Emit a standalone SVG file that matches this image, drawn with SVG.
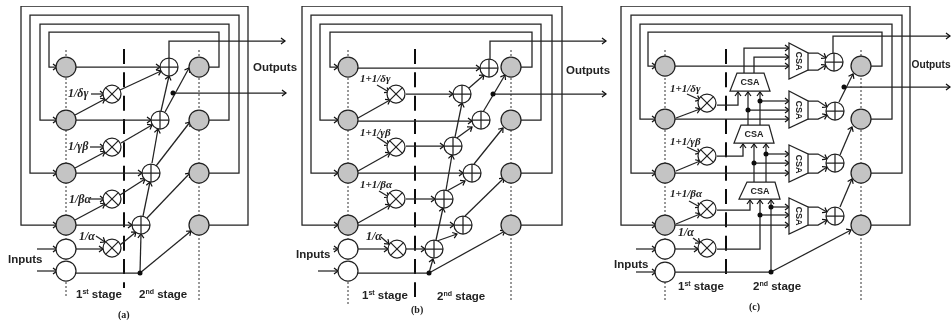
<svg xmlns="http://www.w3.org/2000/svg" width="951" height="320" viewBox="0 0 951 320">
<style>
.w{fill:none;stroke:#222;stroke-width:1.25}
.a{marker-end:url(#ar)}
.dot{fill:none;stroke:#333;stroke-width:1;stroke-dasharray:2 2}
.dash{fill:none;stroke:#111;stroke-width:2;stroke-dasharray:15 8.33}
.g{fill:#c4c4c4;stroke:#222;stroke-width:1.25}
.e{fill:#fff;stroke:#222;stroke-width:1.25}
.d{fill:#111}
.t{font-family:"Liberation Sans",Arial,sans-serif;font-weight:bold;font-size:11.5px;fill:#222}
.p{font-size:7px}
.l{font-family:"Liberation Serif","Times New Roman",serif;font-weight:bold;font-style:italic;font-size:11px;fill:#222}
.m{font-size:12px}
.c{font-family:"Liberation Serif","Times New Roman",serif;font-weight:bold;font-size:10px;fill:#222}
.s{font-family:"Liberation Sans",Arial,sans-serif;font-weight:bold;font-size:9px;fill:#222;text-anchor:middle}
</style>
<defs>
<filter id="soft" x="0" y="0" width="100%" height="100%"><feGaussianBlur stdDeviation="0.35"/></filter>
<marker id="ar" markerUnits="userSpaceOnUse" viewBox="-5 -4 6 8" refX="0" refY="0" markerWidth="6" markerHeight="8" orient="auto"><path d="M-4-3 0 0-4 3" fill="none" stroke="#111" stroke-width="1.2"/></marker>
<g id="add"><circle r="9" class="e"/><path d="M-9 0H9M0-9V9" class="w"/></g>
<g id="mul"><circle r="9" class="e"/><path d="M-6.4-6.4 6.4 6.4M-6.4 6.4 6.4-6.4" class="w"/></g>
</defs>
<rect width="951" height="320" fill="#fff"/>
<g filter="url(#soft)">
<g id="connectors">
<!-- panel a -->
<path class="dot" d="M66 50V298M199 50V301"/>
<path class="dash" d="M124 49V288"/>
<g class="w">
<path class="a" d="M209 67H219V32H49V67H57"/>
<path class="a" d="M209 120H229V24H40V120H57"/>
<path class="a" d="M209 173H239V15H30V173H57"/>
<path class="a" d="M209 225H248V6H21V225H57"/>
<path class="a" d="M76 67H160"/><path class="a" d="M76 120H151"/><path class="a" d="M76 173H142"/><path class="a" d="M76 225H132"/>
<path class="a" d="M37 249H57"/><path class="a" d="M37 271H57"/><path class="a" d="M76 249H103"/><path d="M76 273H140"/>
<path class="a" d="M75 115 105 99"/><path class="a" d="M75 168 105 152"/><path class="a" d="M75 220 105 204"/>
<path class="a" d="M120 90 161 71"/><path class="a" d="M121 143 152 125"/><path class="a" d="M120 195 145 179"/><path class="a" d="M120 245 136 232"/>
<path class="a" d="M91 94H104"/><path class="a" d="M90 147H104"/><path class="a" d="M90 199H104"/><path class="a" d="M96 236 105 242"/>
<path class="a" d="M165 112 189 68"/><path class="a" d="M156 166 190 122"/><path class="a" d="M147 218 190 173"/><path class="a" d="M140 273 191 231"/>
<path class="a" d="M140 273 141 234"/><path class="a" d="M143 216 150 182"/><path class="a" d="M152 163 158 129"/><path class="a" d="M161 111 169 76"/>
<path class="a" d="M169 58V41H285"/><path class="a" d="M173 93H286"/>
</g>
<!-- panel b -->
<path class="dot" d="M348 50V304M511 50V300"/>
<path class="dash" d="M415 49V297"/>
<g class="w">
<path class="a" d="M521 67H532V32H330V67H338"/>
<path class="a" d="M521 120H541V24H320V120H338"/>
<path class="a" d="M521 173H552V15H311V173H338"/>
<path class="a" d="M521 225H562V6H302V225H338"/>
<path class="a" d="M358 68H480"/><path class="a" d="M358 121H472"/><path class="a" d="M358 173H463"/><path class="a" d="M358 225H454"/>
<path class="a" d="M333 249H338"/><path class="a" d="M318 271H338"/><path class="a" d="M358 249H388"/><path d="M358 273H429"/>
<path class="a" d="M358 118 390 100"/><path class="a" d="M358 171 390 153"/><path class="a" d="M358 223 390 205"/>
<path class="a" d="M406 94H453"/><path class="a" d="M406 146H444"/><path class="a" d="M406 199H435"/><path class="a" d="M406 249H425"/>
<path class="a" d="M377 85 389 92"/><path class="a" d="M377 137 389 145"/><path class="a" d="M379 191 389 197"/><path class="a" d="M381 237 389 244"/>
<path class="a" d="M469 88 484 75"/><path class="a" d="M454 140 472 127"/><path class="a" d="M445 192 465 181"/><path class="a" d="M437 241 457 234"/>
<path class="a" d="M483 112 505 75"/><path class="a" d="M474 164 503 128"/><path class="a" d="M465 216 504 178"/><path class="a" d="M429 273 505 231"/>
<path class="a" d="M429 273 433 259"/><path class="a" d="M436 240 443 208"/><path class="a" d="M446 190 452 155"/><path class="a" d="M455 137 462 103"/>
<path class="a" d="M490 59V41H606"/><path class="a" d="M493 94H606"/>
</g>
<!-- panel c -->
<path class="dot" d="M665 50V300M861 50V300"/>
<path class="dash" d="M726 49V274"/>
<g class="w">
<path class="a" d="M871 66H882V32H648V66H656"/>
<path class="a" d="M871 119H892V24H640V119H656"/>
<path class="a" d="M871 173H902V15H631V173H656"/>
<path class="a" d="M871 225H910V6H621V225H656"/>
<path class="a" d="M675 66H789"/><path class="a" d="M675 119H789"/><path class="a" d="M675 173H789"/><path class="a" d="M675 225H789"/>
<path class="a" d="M636 249H656"/><path class="a" d="M636 272H656"/><path class="a" d="M675 249H698"/><path d="M675 272H771"/>
<path class="a" d="M676 118 700 109"/><path class="a" d="M676 171 700 161"/><path class="a" d="M676 224 700 214"/>
<path class="a" d="M687 94 700 100"/><path class="a" d="M687 147 700 153"/><path class="a" d="M689 201 700 207"/><path class="a" d="M693 238 700 243"/>
<path class="a" d="M717 105H738V92"/><path class="a" d="M717 156H743V144"/><path class="a" d="M717 210H750V200"/><path class="a" d="M717 249H760V200"/>
<path class="a" d="M744 74V48H789"/><path class="a" d="M754 74V57H789"/>
<path class="a" d="M748 125V92"/><path class="a" d="M760 125V92"/><path class="a" d="M760 101H789"/><path class="a" d="M748 110H789"/>
<path class="a" d="M754 183V144"/><path class="a" d="M766 183V144"/>
<path class="a" d="M766 154H789"/><path class="a" d="M754 163H789"/><path class="a" d="M771 207H789"/><path class="a" d="M760 215H789"/>
<path class="a" d="M771 272V200"/><path class="a" d="M771 272 851 230"/>
<path class="a" d="M808 53H818L826 58"/><path class="a" d="M808 70H818L826 65"/>
<path class="a" d="M808 101H818L827 107"/><path class="a" d="M808 119H818L827 115"/>
<path class="a" d="M808 154H818L827 159"/><path class="a" d="M808 173H818L827 167"/>
<path class="a" d="M808 207H818L827 212"/><path class="a" d="M808 225H818L827 220"/>
<path class="a" d="M839 102 853 74"/><path class="a" d="M840 155 852 127"/><path class="a" d="M840 207 852 179"/>
<path class="a" d="M833 53V36H950"/><path class="a" d="M844 87H950"/>
</g>
</g>
<g class="d" id="junctions">
<circle cx="140" cy="273" r="2.5"/><circle cx="173" cy="93" r="2.5"/>
<circle cx="429" cy="273" r="2.5"/><circle cx="493" cy="94" r="2.5"/>
<circle cx="844" cy="87" r="2.5"/><circle cx="748" cy="110" r="2.5"/><circle cx="760" cy="101" r="2.5"/><circle cx="754" cy="163" r="2.5"/><circle cx="766" cy="154" r="2.5"/><circle cx="760" cy="215" r="2.5"/><circle cx="771" cy="207" r="2.5"/><circle cx="771" cy="272" r="2.5"/>
</g>
<g id="panel-a">
<g id="a-l1"><circle class="g" cx="66" cy="67" r="10"/></g><g id="a-l2"><circle class="g" cx="66" cy="120" r="10"/></g><g id="a-l3"><circle class="g" cx="66" cy="173" r="10"/></g><g id="a-l4"><circle class="g" cx="66" cy="225" r="10"/></g>
<g id="a-i1"><circle class="e" cx="66" cy="249" r="10"/></g><g id="a-i2"><circle class="e" cx="66" cy="271" r="10"/></g>
<g id="a-r1"><circle class="g" cx="199" cy="67" r="10"/></g><g id="a-r2"><circle class="g" cx="199" cy="120" r="10"/></g><g id="a-r3"><circle class="g" cx="199" cy="173" r="10"/></g><g id="a-r4"><circle class="g" cx="199" cy="225" r="10"/></g>
<g id="a-m1"><use href="#mul" x="112" y="94"/></g><g id="a-m2"><use href="#mul" x="112" y="147"/></g><g id="a-m3"><use href="#mul" x="112" y="199"/></g><g id="a-m4"><use href="#mul" x="112" y="248"/></g>
<g id="a-s1"><use href="#add" x="169" y="67"/></g><g id="a-s2"><use href="#add" x="160" y="120"/></g><g id="a-s3"><use href="#add" x="151" y="173"/></g><g id="a-s4"><use href="#add" x="141" y="225"/></g>
<text class="l m" x="68" y="97">1/δγ</text><text class="l m" x="68" y="150">1/γβ</text><text class="l m" x="69" y="203">1/βα</text><text class="l m" x="79" y="240">1/α</text>
<text class="t" x="253" y="71">Outputs</text><text class="t" x="8" y="263">Inputs</text>
<text class="t" x="76" y="298">1<tspan class="p" dy="-4">st</tspan><tspan dy="4"> stage</tspan></text>
<text class="t" x="139" y="298">2<tspan class="p" dy="-4">nd</tspan><tspan dy="4"> stage</tspan></text>
<text class="c" x="118" y="318">(a)</text>
</g>
<g id="panel-b">
<g id="b-l1"><circle class="g" cx="348" cy="67" r="10"/></g><g id="b-l2"><circle class="g" cx="348" cy="120" r="10"/></g><g id="b-l3"><circle class="g" cx="348" cy="173" r="10"/></g><g id="b-l4"><circle class="g" cx="348" cy="225" r="10"/></g>
<g id="b-i1"><circle class="e" cx="348" cy="249" r="10"/></g><g id="b-i2"><circle class="e" cx="348" cy="271" r="10"/></g>
<g id="b-r1"><circle class="g" cx="511" cy="67" r="10"/></g><g id="b-r2"><circle class="g" cx="511" cy="120" r="10"/></g><g id="b-r3"><circle class="g" cx="511" cy="173" r="10"/></g><g id="b-r4"><circle class="g" cx="511" cy="225" r="10"/></g>
<g id="b-m1"><use href="#mul" x="396" y="94"/></g><g id="b-m2"><use href="#mul" x="396" y="147"/></g><g id="b-m3"><use href="#mul" x="396" y="199"/></g><g id="b-m4"><use href="#mul" x="397" y="249"/></g>
<g id="b-s1"><use href="#add" x="489" y="68"/></g><g id="b-s2"><use href="#add" x="462" y="94"/></g><g id="b-s3"><use href="#add" x="481" y="120"/></g><g id="b-s4"><use href="#add" x="453" y="146"/></g><g id="b-s5"><use href="#add" x="472" y="173"/></g><g id="b-s6"><use href="#add" x="444" y="199"/></g><g id="b-s7"><use href="#add" x="463" y="225"/></g><g id="b-s8"><use href="#add" x="434" y="249"/></g>
<text class="l" x="360" y="82">1+1/δγ</text><text class="l" x="360" y="136">1+1/γβ</text><text class="l" x="360" y="188">1+1/βα</text><text class="l m" x="366" y="240">1/α</text>
<text class="t" x="566" y="74">Outputs</text><text class="t" x="296" y="258">Inputs</text>
<text class="t" x="362" y="299">1<tspan class="p" dy="-4">st</tspan><tspan dy="4"> stage</tspan></text>
<text class="t" x="437" y="300">2<tspan class="p" dy="-4">nd</tspan><tspan dy="4"> stage</tspan></text>
<text class="c" x="411" y="313">(b)</text>
</g>
<g id="panel-c">
<g id="c-l1"><circle class="g" cx="665" cy="66" r="10"/></g><g id="c-l2"><circle class="g" cx="665" cy="119" r="10"/></g><g id="c-l3"><circle class="g" cx="665" cy="173" r="10"/></g><g id="c-l4"><circle class="g" cx="665" cy="225" r="10"/></g>
<g id="c-i1"><circle class="e" cx="665" cy="249" r="10"/></g><g id="c-i2"><circle class="e" cx="665" cy="272" r="10"/></g>
<g id="c-r1"><circle class="g" cx="861" cy="66" r="10"/></g><g id="c-r2"><circle class="g" cx="861" cy="119" r="10"/></g><g id="c-r3"><circle class="g" cx="861" cy="173" r="10"/></g><g id="c-r4"><circle class="g" cx="861" cy="225" r="10"/></g>
<g id="c-m1"><use href="#mul" x="707" y="103"/></g><g id="c-m2"><use href="#mul" x="707" y="156"/></g><g id="c-m3"><use href="#mul" x="707" y="209"/></g><g id="c-m4"><use href="#mul" x="707" y="248"/></g>
<g id="c-s1"><use href="#add" x="834" y="62"/></g><g id="c-s2"><use href="#add" x="835" y="111"/></g><g id="c-s3"><use href="#add" x="835" y="163"/></g><g id="c-s4"><use href="#add" x="835" y="216"/></g>
<g id="c-v1"><path class="e" d="M789 43 808 53V70L789 79Z"/><text class="s" transform="translate(799 61) rotate(90)" y="3">CSA</text></g>
<g id="c-v2"><path class="e" d="M789 91 808 101V119L789 128Z"/><text class="s" transform="translate(799 110) rotate(90)" y="3">CSA</text></g>
<g id="c-v3"><path class="e" d="M789 145 808 154V173L789 182Z"/><text class="s" transform="translate(799 164) rotate(90)" y="3">CSA</text></g>
<g id="c-v4"><path class="e" d="M789 198 808 207V225L789 234Z"/><text class="s" transform="translate(799 216) rotate(90)" y="3">CSA</text></g>
<g id="c-h1"><path class="e" d="M737 73H764L770 91H730Z"/><text class="s" x="750" y="85">CSA</text></g>
<g id="c-h2"><path class="e" d="M741 125H769L774 143H734Z"/><text class="s" x="754" y="137">CSA</text></g>
<g id="c-h3"><path class="e" d="M747 182H775L780 199H739Z"/><text class="s" x="760" y="194">CSA</text></g>
<text class="l" x="670" y="92">1+1/δγ</text><text class="l" x="670" y="145">1+1/γβ</text><text class="l" x="670" y="197">1+1/βα</text><text class="l m" x="678" y="236">1/α</text>
<text class="t" x="911.5" y="68" style="font-size:10.2px">Outputs</text><text class="t" x="614" y="268">Inputs</text>
<text class="t" x="678" y="290">1<tspan class="p" dy="-4">st</tspan><tspan dy="4"> stage</tspan></text>
<text class="t" x="753" y="290">2<tspan class="p" dy="-4">nd</tspan><tspan dy="4"> stage</tspan></text>
<text class="c" x="749" y="310">(c)</text>
</g>
</g>
</svg>
